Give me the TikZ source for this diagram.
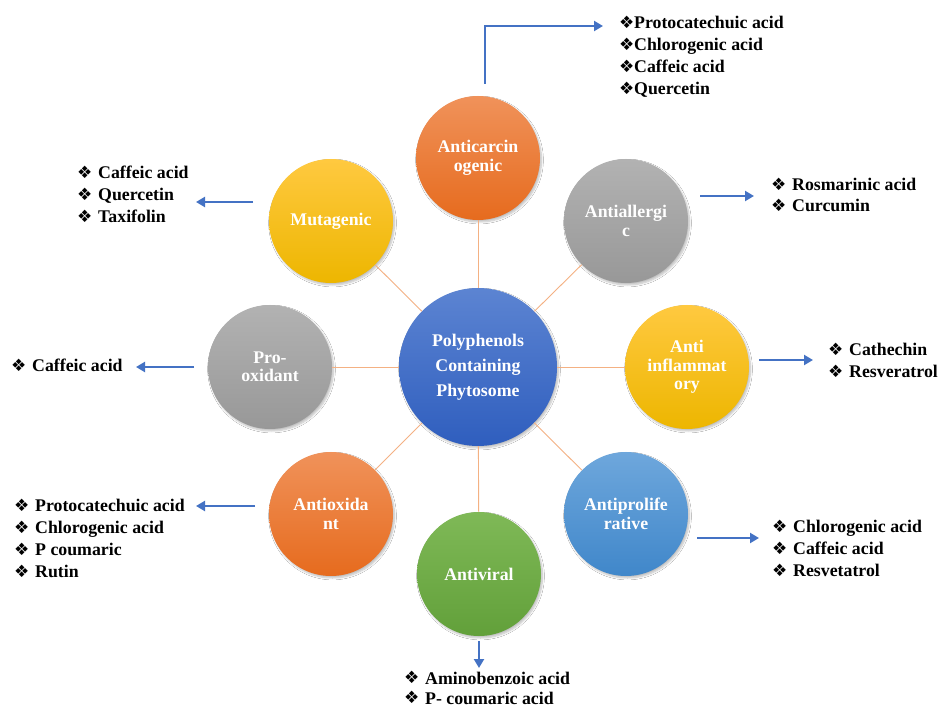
\documentclass[tikz,border=0pt]{standalone}
\usepackage{fontspec}
\setmainfont{Liberation Serif}
\newfontfamily\dvs{DejaVu Sans}
\usetikzlibrary{arrows.meta,shadows.blur}

\definecolor{arrowblue}{HTML}{4472C4}
\definecolor{spokeor}{HTML}{F4B183}
\definecolor{orT}{HTML}{F0925A}\definecolor{orB}{HTML}{E66B1E}
\definecolor{grT}{HTML}{B2B2B2}\definecolor{grB}{HTML}{989898}
\definecolor{goT}{HTML}{FFC940}\definecolor{goB}{HTML}{EDB600}
\definecolor{blT}{HTML}{6EA7DC}\definecolor{blB}{HTML}{4087CA}
\definecolor{gnT}{HTML}{7FB957}\definecolor{gnB}{HTML}{62A03A}
\definecolor{hbT}{HTML}{5C84D2}\definecolor{hbB}{HTML}{2F5EBE}

\newcommand\bulA{\makebox[15pt][l]{\raisebox{0.5pt}{\dvs\fontsize{17}{17}\selectfont ❖}}}
\newcommand\bulB{\makebox[21pt][l]{\raisebox{0.5pt}{\dvs\fontsize{17}{17}\selectfont ❖}}}

\tikzset{
  sat/.style={circle, minimum size=124pt, inner sep=0pt, align=center, text=white,
    font=\bfseries\fontsize{17.8}{18.5}\selectfont,
    blur shadow={shadow xshift=1.5pt, shadow yshift=-2pt, shadow blur steps=6, shadow opacity=25}},
  hub/.style={sat, minimum size=158pt, font=\bfseries\fontsize{17.8}{25}\selectfont},
  orangeball/.style={top color=orT, bottom color=orB},
  grayball/.style={top color=grT, bottom color=grB},
  goldball/.style={top color=goT, bottom color=goB},
  blueball/.style={top color=blT, bottom color=blB},
  greenball/.style={top color=gnT, bottom color=gnB},
  hubball/.style={top color=hbT, bottom color=hbB},
  spoke/.style={draw=spokeor, line width=0.9pt},
  flow/.style={draw=arrowblue, line width=2.2pt, line join=miter, -{Triangle[length=9pt,width=10pt]}},
  item/.style={anchor=base west, inner sep=0pt, font=\bfseries\fontsize{17.8}{20}\selectfont},
}

\begin{document}
\begin{tikzpicture}[x=1pt,y=-1pt]
\fill[white] (0,0) rectangle (938,708);
\useasboundingbox (0,0) rectangle (938,708);

% hub and satellites
\node[hub, hubball] (hub) at (478,367) {Polyphenols\\Containing\\Phytosome};
\node[sat, orangeball] (car) at (478,158) {Anticarcin\\ogenic};
\node[sat, grayball] (all) at (626,221) {Antiallergi\\c};
\node[sat, goldball] (inf) at (687,367) {Anti\\inflammat\\ory};
\node[sat, blueball] (pro) at (626,514) {Antiprolife\\rative};
\node[sat, greenball] (vir) at (479,574) {Antiviral};
\node[sat, orangeball] (oxi) at (331,514) {Antioxida\\nt};
\node[sat, grayball] (prx) at (270,367) {Pro-\\oxidant};
\node[sat, goldball] (mut) at (331,221) {Mutagenic};

% spokes
\foreach \s in {car,all,inf,pro,vir,oxi,prx,mut}
  \draw[spoke] (hub) -- (\s);

% arrow end points
\coordinate (carA) at (485,84);
\coordinate (carK) at (485,26);
\coordinate (carB) at (603,26);
\coordinate (allA) at (700,196);
\coordinate (allB) at (754,196);
\coordinate (infA) at (759,360);
\coordinate (infB) at (813,360);
\coordinate (proA) at (697,538);
\coordinate (proB) at (759,538);
\coordinate (virA) at (479,641);
\coordinate (virB) at (479,668);
\coordinate (oxiA) at (255,506);
\coordinate (oxiB) at (196,506);
\coordinate (prxA) at (194,367);
\coordinate (prxB) at (136,367);
\coordinate (mutA) at (253,202);
\coordinate (mutB) at (196,202);

\draw[flow] (carA) -- (carK) -- (carB);
\draw[flow] (allA) -- (allB);
\draw[flow] (infA) -- (infB);
\draw[flow] (proA) -- (proB);
\draw[flow] (virA) -- (virB);
\draw[flow] (oxiA) -- (oxiB);
\draw[flow] (prxA) -- (prxB);
\draw[flow] (mutA) -- (mutB);

% lists
\foreach \t [count=\i from 0] in {Protocatechuic acid, Chlorogenic acid, Caffeic acid, Quercetin}
  \node[item] (lcar\i) at (619,29+22*\i) {\bulA\t};
\foreach \t [count=\i from 0] in {Rosmarinic acid, Curcumin}
  \node[item] (lall\i) at (771,191+21*\i) {\bulB\t};
\foreach \t [count=\i from 0] in {Cathechin, Resveratrol}
  \node[item] (linf\i) at (828,356+22*\i) {\bulB\t};
\foreach \t [count=\i from 0] in {Chlorogenic acid, Caffeic acid, Resvetatrol}
  \node[item] (lpro\i) at (772,533+22*\i) {\bulB\t};
\foreach \t [count=\i from 0] in {Aminobenzoic acid, P- coumaric acid}
  \node[item] (lvir\i) at (404,684+20*\i) {\bulB\t};
\foreach \t [count=\i from 0] in {Protocatechuic acid, Chlorogenic acid, P coumaric, Rutin}
  \node[item] (loxi\i) at (14,512+22*\i) {\bulB\t};
\node[item] (lprx0) at (11,372) {\bulB Caffeic acid};
\foreach \t [count=\i from 0] in {Caffeic acid, Quercetin, Taxifolin}
  \node[item] (lmut\i) at (77,179+22*\i) {\bulB\t};
\end{tikzpicture}
\end{document}
